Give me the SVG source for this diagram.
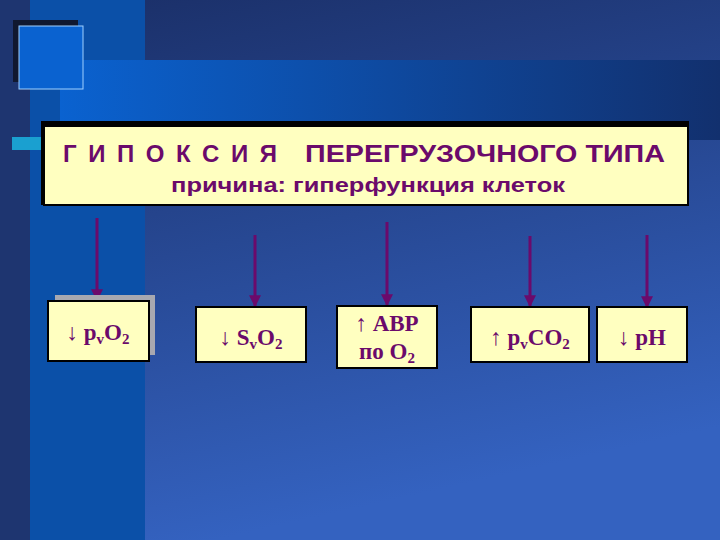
<svg xmlns="http://www.w3.org/2000/svg" width="720" height="540" viewBox="0 0 720 540">
<defs>
<linearGradient id="bg" x1="0" y1="0" x2="0.3" y2="1"><stop offset="0" stop-color="#1a2e66"/><stop offset="1" stop-color="#3462c0"/></linearGradient>
<linearGradient id="band" x1="0" y1="0" x2="1" y2="0"><stop offset="0" stop-color="#0a62d0"/><stop offset="1" stop-color="#12306e"/></linearGradient>
<marker id="ah" viewBox="0 0 10 10" refX="9" refY="5" markerWidth="4" markerHeight="4" orient="auto"><path d="M0,0 L10,5 L0,10 z" fill="#6b0a6b"/></marker>
<style>
.box{fill:#ffffc0;stroke:#000;stroke-width:2}
.t{font-family:"Liberation Serif",serif;font-weight:bold;fill:#6b0a6b;font-size:23px}
.h{font-family:"Liberation Sans",sans-serif;font-weight:bold;fill:#6b0a6b}
.s{font-size:15px}
.c{stroke:#6b0a6b;stroke-width:3;marker-end:url(#ah)}
</style>
</defs>
<rect width="720" height="540" fill="url(#bg)"/>
<rect x="0" y="0" width="30" height="540" fill="#1e3570"/>
<rect x="30" y="0" width="115" height="540" fill="#0b50a8"/>
<rect x="60" y="60" width="660" height="80" fill="url(#band)"/>
<rect x="13" y="20" width="65" height="62" fill="#101830"/>
<rect x="19" y="26" width="64" height="63" fill="#0a62d0" stroke="#9fd0ff" stroke-width="1"/>
<rect x="12" y="137" width="35" height="13" fill="#1aa0d0"/>
<g id="header">
<rect x="41" y="121" width="648" height="84" fill="#000"/>
<rect x="44" y="126" width="644" height="79" class="box" stroke-width="1.5"/>
<text x="63" y="162" class="h" font-size="24" textLength="214" lengthAdjust="spacing">ГИПОКСИЯ</text>
<text x="305" y="162" class="h" font-size="24" textLength="360" lengthAdjust="spacingAndGlyphs">ПЕРЕГРУЗОЧНОГО  ТИПА</text>
<text x="171" y="192" class="h" font-size="20" textLength="394" lengthAdjust="spacingAndGlyphs">причина: гиперфункция клеток</text>
</g>
<g id="connectors">
<line x1="97" y1="218" x2="97" y2="300" class="c"/>
<line x1="255" y1="235" x2="255" y2="306" class="c"/>
<line x1="387" y1="222" x2="387" y2="305" class="c"/>
<line x1="530" y1="236" x2="530" y2="306" class="c"/>
<line x1="647" y1="235" x2="647" y2="307" class="c"/>
</g>
<g id="n1">
<rect x="55" y="295" width="100" height="60" fill="#a8a8b0"/>
<rect x="48" y="301" width="101" height="60" class="box"/>
<text x="98" y="340" text-anchor="middle" class="t">↓ p<tspan class="s" dy="4">v</tspan><tspan dy="-4">O</tspan><tspan class="s" dy="4">2</tspan></text>
</g>
<g id="n2">
<rect x="196" y="307" width="110" height="55" class="box"/>
<text x="251" y="345" text-anchor="middle" class="t">↓ S<tspan class="s" dy="4">v</tspan><tspan dy="-4">O</tspan><tspan class="s" dy="4">2</tspan></text>
</g>
<g id="n3">
<rect x="337" y="306" width="100" height="62" class="box"/>
<text x="387" y="331" text-anchor="middle" class="t">↑ АВР</text>
<text x="387" y="359" text-anchor="middle" class="t" font-size="20">по  О<tspan class="s" dy="4">2</tspan></text>
</g>
<g id="n4">
<rect x="471" y="307" width="118" height="55" class="box"/>
<text x="530" y="345" text-anchor="middle" class="t">↑ p<tspan class="s" dy="4">v</tspan><tspan dy="-4">CO</tspan><tspan class="s" dy="4">2</tspan></text>
</g>
<g id="n5">
<rect x="597" y="307" width="90" height="55" class="box"/>
<text x="642" y="345" text-anchor="middle" class="t">↓ pH</text>
</g>
</svg>
